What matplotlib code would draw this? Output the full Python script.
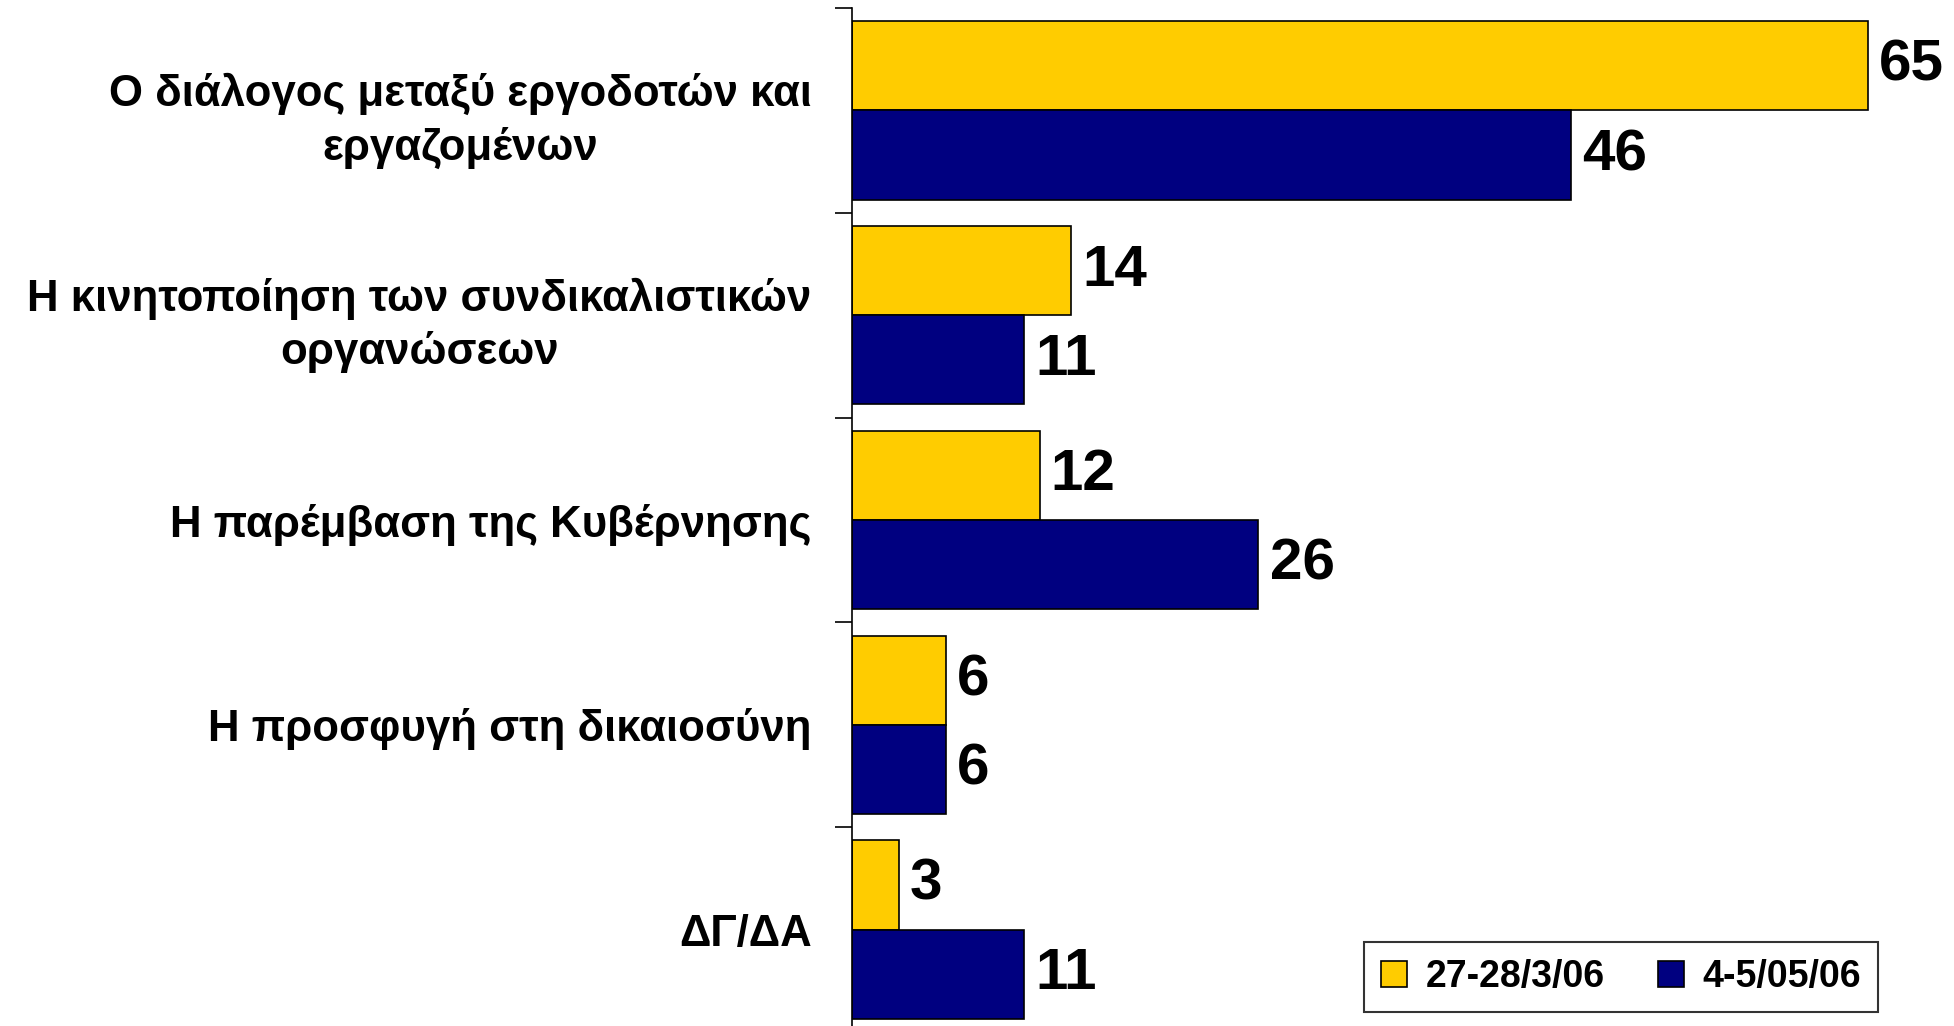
import matplotlib
matplotlib.use("Agg")
import matplotlib.pyplot as plt
import numpy as np

# Data
categories = [
    "Ο διάλογος μεταξύ εργοδοτών και\nεργαζομένων",
    "Η κινητοποίηση των συνδικαλιστικών\nοργανώσεων",
    "Η παρέμβαση της Κυβέρνησης",
    "Η προσφυγή στη δικαιοσύνη",
    "ΔΓ/ΔΑ",
]
wave1 = [65, 14, 12, 6, 3]
wave2 = [46, 11, 26, 6, 11]
series_names = ["27-28/3/06", "4-5/05/06"]

yellow = "#FFCC00"
navy = "#000080"

plt.rcParams['font.family'] = ['Liberation Sans', 'DejaVu Sans']
plt.rcParams['font.weight'] = 'bold'

fig = plt.figure(figsize=(19.54, 10.26), dpi=100)
# axes: left edge at x=852px, top at y=8px, bottom slightly below the picture
ax = fig.add_axes([852 / 1954, -6 / 1026, 1 - 852 / 1954, 1024 / 1026])

y = np.arange(len(categories))
h = 0.436
b1 = ax.barh(y - h / 2, wave1, height=h, color=yellow, edgecolor="black", linewidth=1.2,
             label=series_names[0])
b2 = ax.barh(y + h / 2, wave2, height=h, color=navy, edgecolor="black", linewidth=1.2,
             label=series_names[1])

for bars in (b1, b2):
    for rect in bars:
        w = rect.get_width()
        ax.annotate(f"{w:g}", (w, rect.get_y() + rect.get_height() / 2),
                    xytext=(8, 0), textcoords="offset points",
                    ha="left", va="center", fontsize=42, fontweight="bold")

ax.set_xlim(0, 70.5)
ax.set_ylim(len(categories) - 0.5, -0.5)

# ticks at the group boundaries, labels at the centers
ax.set_yticks(np.arange(-0.5, len(categories), 1.0))
ax.set_yticklabels([])
ax.tick_params(axis="y", which="major", length=12, width=1.2, direction="out")
ax.set_yticks(y, minor=True)
ax.set_yticklabels(categories, minor=True, fontsize=31.5, fontweight="bold",
                   multialignment="center", linespacing=1.35)
ax.tick_params(axis="y", which="minor", length=0, pad=29)

ax.xaxis.set_visible(False)
for s in ("top", "right", "bottom"):
    ax.spines[s].set_visible(False)
ax.spines["left"].set_linewidth(1.2)

leg = ax.legend(loc="lower right", bbox_to_anchor=(1878 / 1954, (1026 - 1012) / 1026),
                bbox_transform=fig.transFigure, borderaxespad=0, ncol=2, fontsize=27,
                frameon=True, fancybox=False, edgecolor="black", handlelength=0.7,
                handleheight=0.7, handletextpad=0.5, columnspacing=1.4, borderpad=0.45)
leg.get_frame().set_linewidth(1.5)

fig.savefig("out.png", dpi=100)
